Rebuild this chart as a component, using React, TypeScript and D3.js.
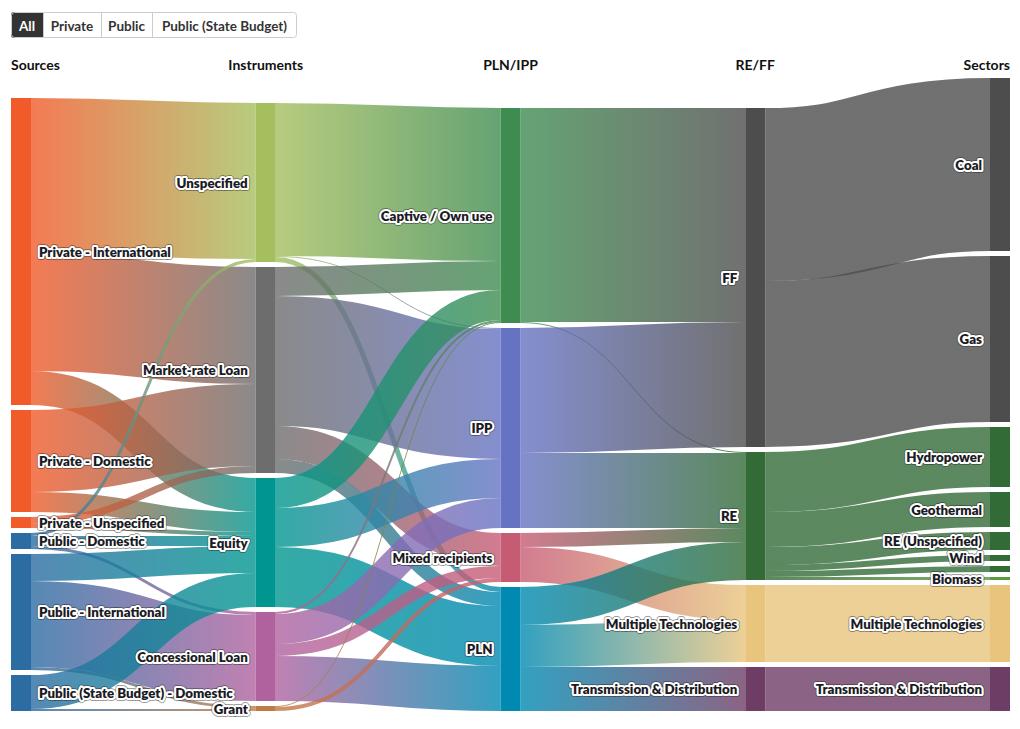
import React from "react";
import * as d3 from "d3";

// ---------- DATA ----------
const headers = ["Sources", "Instruments", "PLN/IPP", "RE/FF", "Sectors"];
const buttons = ["All", "Private", "Public", "Public (State Budget)"];

const sources = [
  "Private - International",
  "Private - Domestic",
  "Private - Unspecified",
  "Public - Domestic",
  "Public - International",
  "Public (State Budget) - Domestic",
];
const instruments = ["Unspecified", "Market-rate Loan", "Equity", "Concessional Loan", "Grant"];
const recipients = ["Captive / Own use", "IPP", "Mixed recipients", "PLN"];
const reff = ["FF", "RE", "Multiple Technologies", "Transmission & Distribution"];
const sectors = [
  "Coal",
  "Gas",
  "Hydropower",
  "Geothermal",
  "RE (Unspecified)",
  "Wind",
  "Solar",
  "Biomass",
  "Multiple Technologies",
  "Transmission & Distribution",
];

// Sources -> Instruments
const sourceToInstrument: [string, string, number][] = [
  ["Private - International", "Unspecified", 156],
  ["Private - International", "Market-rate Loan", 117],
  ["Private - International", "Equity", 34],
  ["Private - Domestic", "Market-rate Loan", 82],
  ["Private - Domestic", "Equity", 20],
  ["Private - Unspecified", "Market-rate Loan", 7],
  ["Private - Unspecified", "Equity", 4],
  ["Public - Domestic", "Unspecified", 3],
  ["Public - Domestic", "Equity", 10],
  ["Public - Domestic", "Concessional Loan", 3],
  ["Public - International", "Equity", 27],
  ["Public - International", "Concessional Loan", 86],
  ["Public - International", "Grant", 3],
  ["Public (State Budget) - Domestic", "Equity", 34],
  ["Public (State Budget) - Domestic", "Grant", 2],
];

// Instruments -> PLN/IPP
const instrumentToRecipient: [string, string, number][] = [
  ["Unspecified", "Captive / Own use", 153],
  ["Unspecified", "IPP", 1],
  ["Unspecified", "PLN", 5],
  ["Market-rate Loan", "Captive / Own use", 29],
  ["Market-rate Loan", "IPP", 130],
  ["Market-rate Loan", "Mixed recipients", 33],
  ["Market-rate Loan", "PLN", 14],
  ["Equity", "Captive / Own use", 30],
  ["Equity", "IPP", 39],
  ["Equity", "PLN", 60],
  ["Concessional Loan", "Captive / Own use", 2],
  ["Concessional Loan", "IPP", 30],
  ["Concessional Loan", "Mixed recipients", 12],
  ["Concessional Loan", "PLN", 45],
  ["Grant", "Captive / Own use", 1],
  ["Grant", "Mixed recipients", 4],
];

// PLN/IPP -> RE/FF
const recipientToReff: [string, string, number][] = [
  ["Captive / Own use", "FF", 214],
  ["Captive / Own use", "RE", 1],
  ["IPP", "FF", 125],
  ["IPP", "RE", 75],
  ["Mixed recipients", "RE", 14],
  ["Mixed recipients", "Multiple Technologies", 35],
  ["PLN", "RE", 38],
  ["PLN", "Multiple Technologies", 42],
  ["PLN", "Transmission & Distribution", 44],
];

// RE/FF -> Sectors
const reffToSector: [string, string, number][] = [
  ["FF", "Coal", 173],
  ["FF", "Gas", 166],
  ["RE", "Hydropower", 60],
  ["RE", "Geothermal", 35],
  ["RE", "RE (Unspecified)", 18],
  ["RE", "Wind", 6],
  ["RE", "Solar", 6],
  ["RE", "Biomass", 3],
  ["Multiple Technologies", "Multiple Technologies", 77],
  ["Transmission & Distribution", "Transmission & Distribution", 44],
];

const sourceColors = ["#f15a29", "#f15a29", "#f15a29", "#2b6ca3", "#2b6ca3", "#2b6ca3"];
const instrumentColors = ["#a6bf5e", "#6d6d6d", "#00968f", "#b0629f", "#c17a45"];
const recipientColors = ["#3f8c50", "#6673c3", "#c65b74", "#0089b1"];
const reffColors = ["#4d4d4d", "#336b37", "#e8c47c", "#6e3d66"];
const sectorColors = [
  "#4d4d4d",
  "#4d4d4d",
  "#336b37",
  "#336b37",
  "#336b37",
  "#336b37",
  "#336b37",
  "#5c9a3e",
  "#e8c47c",
  "#6e3d66",
];

// ---------- LAYOUT ----------
const W = 1020;
const H = 729;
const X0 = 11;
const X1 = 1010;
const Y0 = 78;
const Y1 = 711;
const NODE_W = 20;
const PAD = 5;

type Node = {
  name: string;
  col: number;
  color: string;
  value: number;
  x0: number;
  x1: number;
  y0: number;
  y1: number;
  sourceLinks: Link[];
  targetLinks: Link[];
};
type Link = { source: Node; target: Node; value: number; width: number; y0: number; y1: number };

function layout() {
  const columns = [sources, instruments, recipients, reff, sectors];
  const colColors = [sourceColors, instrumentColors, recipientColors, reffColors, sectorColors];
  const stages = [sourceToInstrument, instrumentToRecipient, recipientToReff, reffToSector];
  const nodes: Node[] = [];
  const map = new Map<string, Node>();
  columns.forEach((names, c) =>
    names.forEach((name, i) => {
      const n: Node = {
        name,
        col: c,
        color: colColors[c][i],
        value: 0,
        x0: 0,
        x1: 0,
        y0: 0,
        y1: 0,
        sourceLinks: [],
        targetLinks: [],
      };
      nodes.push(n);
      map.set(c + "|" + name, n);
    })
  );
  const links: Link[] = [];
  stages.forEach((st, c) =>
    st.forEach(([s, t, v]) => {
      const l: Link = { source: map.get(c + "|" + s)!, target: map.get(c + 1 + "|" + t)!, value: v, width: 0, y0: 0, y1: 0 };
      l.source.sourceLinks.push(l);
      l.target.targetLinks.push(l);
      links.push(l);
    })
  );
  nodes.forEach((n) => {
    n.value = Math.max(d3.sum(n.sourceLinks, (l) => l.value), d3.sum(n.targetLinks, (l) => l.value));
  });
  const xs = d3.scaleLinear().domain([0, columns.length - 1]).range([X0, X1 - NODE_W]);
  const cols = d3.groups(nodes, (n) => n.col).map((g) => g[1]);
  const ky = d3.min(cols, (cn) => (Y1 - Y0 - (cn.length - 1) * PAD) / d3.sum(cn, (n) => n.value))!;
  cols.forEach((cn) => {
    const total = d3.sum(cn, (n) => n.value) * ky + (cn.length - 1) * PAD;
    let y = Y1 - total;
    cn.forEach((n) => {
      n.x0 = xs(n.col);
      n.x1 = n.x0 + NODE_W;
      n.y0 = y;
      n.y1 = y + n.value * ky;
      y = n.y1 + PAD;
    });
  });
  links.forEach((l) => (l.width = l.value * ky));
  nodes.forEach((n) => {
    let y = n.y0;
    [...n.sourceLinks]
      .sort((a, b) => a.target.y0 - b.target.y0)
      .forEach((l) => {
        l.y0 = y + l.width / 2;
        y += l.width;
      });
    y = n.y0;
    [...n.targetLinks]
      .sort((a, b) => a.source.y0 - b.source.y0)
      .forEach((l) => {
        l.y1 = y + l.width / 2;
        y += l.width;
      });
  });
  return { nodes, links, xs };
}

const FONT = "Lato, 'Noto Sans', sans-serif";

function Label({ x, y, anchor, text }: { x: number; y: number; anchor: string; text: string }) {
  const common = {
    x,
    y,
    textAnchor: anchor as any,
    dominantBaseline: "central" as any,
    fontFamily: FONT,
    fontWeight: 800,
    fontSize: 13.3,
  };
  return (
    <g>
      <text {...common} stroke="#222" strokeOpacity={0.45} strokeWidth={6} strokeLinejoin="round" fill="none">
        {text}
      </text>
      <text {...common} stroke="#fff" strokeWidth={4.2} strokeLinejoin="round" fill="none">
        {text}
      </text>
      <text {...common} fill="#1b1b24">
        {text}
      </text>
    </g>
  );
}

export default function App() {
  const { nodes, links, xs } = layout();
  const path = d3
    .linkHorizontal<Link, [number, number]>()
    .source((l) => [l.source.x1, l.y0])
    .target((l) => [l.target.x0, l.y1]);

  // labels with collision hiding per column
  const labels: { x: number; y: number; anchor: string; text: string }[] = [];
  d3.groups(nodes, (n) => n.col).forEach(([c, cn]) => {
    let lastBottom = -Infinity;
    cn.forEach((n) => {
      const cy = (n.y0 + n.y1) / 2;
      if (cy - 6.5 < lastBottom) return;
      lastBottom = cy + 6.5;
      if (c === 0) labels.push({ x: n.x1 + 8, y: cy, anchor: "start", text: n.name });
      else labels.push({ x: n.x0 - 8, y: cy, anchor: "end", text: n.name });
    });
  });

  // buttons
  const btnWidths = [32, 58, 51, 145];
  let bx = 11;
  const btns = buttons.map((b, i) => {
    const r = { x: bx, w: btnWidths[i], text: b };
    bx += btnWidths[i];
    return r;
  });

  return (
    <svg
      width={W}
      height={H}
      style={{ position: "absolute", left: 0, top: 0, background: "#fff" }}
      fontFamily={FONT}
    >
      <defs>
        {links.map((l, i) => (
          <linearGradient key={i} id={"lg" + i} gradientUnits="userSpaceOnUse" x1={l.source.x1} x2={l.target.x0} y1={0} y2={0}>
            <stop offset="0%" stopColor={l.source.color} />
            <stop offset="100%" stopColor={l.target.color} />
          </linearGradient>
        ))}
        <clipPath id="btnclip">
          <rect x={11} y={12} width={bx - 11} height={26} rx={3} />
        </clipPath>
      </defs>

      {/* buttons */}
      <g clipPath="url(#btnclip)">
        {btns.map((b, i) => (
          <rect key={i} x={b.x} y={12} width={b.w} height={26} fill={i === 0 ? "#333" : "#fff"} />
        ))}
      </g>
      <rect x={11.5} y={12.5} width={bx - 12} height={25} rx={3} fill="none" stroke="#ccc" />
      {btns.slice(1).map((b, i) => (
        <line key={i} x1={b.x + 0.5} x2={b.x + 0.5} y1={12} y2={38} stroke="#ccc" />
      ))}
      {btns.map((b, i) => (
        <text
          key={i}
          x={b.x + b.w / 2}
          y={25.5}
          textAnchor="middle"
          dominantBaseline="central"
          fontSize={13.5}
          fontWeight={700}
          fill={i === 0 ? "#fff" : "#333"}
        >
          {b.text}
        </text>
      ))}

      {/* headers */}
      {headers.map((h, i) => {
        const cx = xs(i);
        const anchor = i === 0 ? "start" : i === headers.length - 1 ? "end" : "middle";
        const x = i === 0 ? cx : i === headers.length - 1 ? cx + NODE_W : cx + NODE_W / 2;
        return (
          <text key={h} x={x} y={70} textAnchor={anchor} fontSize={14} fontWeight={700} fill="#111">
            {h}
          </text>
        );
      })}

      {/* links */}
      <g fill="none">
        {links.map((l, i) => (
          <path
            key={i}
            d={path(l) || ""}
            stroke={`url(#lg${i})`}
            strokeWidth={Math.max(1, l.width)}
            strokeOpacity={0.8}
          />
        ))}
      </g>

      {/* nodes */}
      <g>
        {nodes.map((n, i) => (
          <rect key={i} x={n.x0} y={n.y0} width={n.x1 - n.x0} height={Math.max(1, n.y1 - n.y0)} fill={n.color} />
        ))}
      </g>

      {/* labels */}
      <g>
        {labels.map((lb, i) => (
          <Label key={i} {...lb} />
        ))}
      </g>
    </svg>
  );
}
